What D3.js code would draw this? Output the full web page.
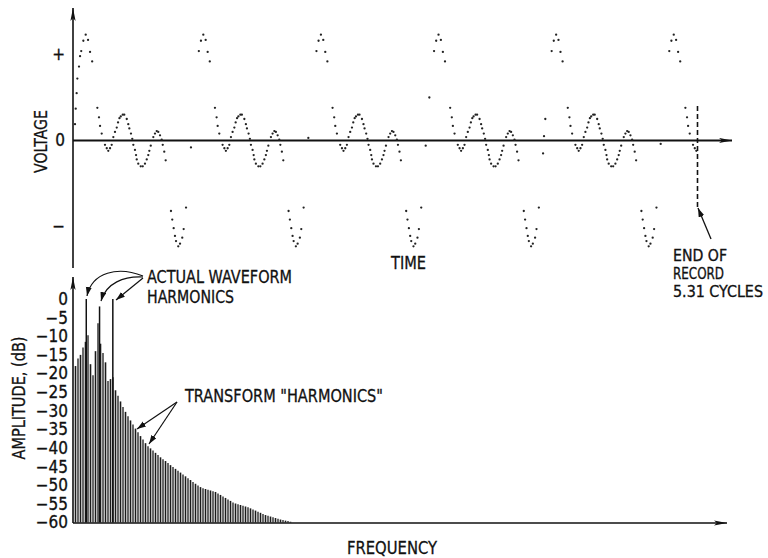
<!DOCTYPE html>
<html><head><meta charset="utf-8">
<script src="https://cdn.jsdelivr.net/npm/d3@7"></script>
<style>
body{margin:0;background:#fff}
svg{display:block}
text{font-family:"Liberation Sans Narrow","Arial Narrow","DejaVu Sans Condensed",sans-serif;fill:#111;stroke:#111;stroke-width:0.3}
</style>
</head><body>
<svg id="c" width="768" height="558"></svg>
<script>
// ---------------- DATA ----------------
// Time record length, in cycles of the waveform
const recordCycles = 5.31;
// One cycle of plotted samples: time within cycle (fraction) and voltage
const cycleT = [0.070,0.088,0.108,0.128,0.145,0.163,
  0.207,0.221,0.230,0.244,0.272,0.287,0.300,0.315,0.329,0.343,0.357,0.372,0.383,0.395,0.406,0.423,0.436,0.457,0.470,0.479,0.493,0.504,
  0.513,0.527,0.536,0.542,0.555,0.576,0.593,0.612,0.627,0.640,0.649,0.661,0.683,0.697,0.712,0.725,0.740,0.754,0.763,0.776,0.788,
  0.833,0.844,0.856,0.867,0.876,0.895,0.910,0.929,0.941,0.961];
const cycleV = [1.04,1.16,1.23,1.17,1.03,0.92,
  0.38,0.27,0.17,0.08,-0.05,-0.09,-0.12,-0.09,-0.05,0.04,0.10,0.15,0.21,0.26,0.28,0.30,0.30,0.25,0.19,0.14,0.08,0.02,
  -0.05,-0.11,-0.17,-0.22,-0.27,-0.30,-0.30,-0.27,-0.22,-0.17,-0.12,-0.06,0.04,0.08,0.11,0.10,0.06,0.01,-0.05,-0.13,-0.23,
  -0.82,-0.92,-1.02,-1.11,-1.17,-1.23,-1.20,-1.13,-1.03,-0.78];
// extra samples at the very start of the record
const startT = [0.017,0.023,0.031,0.037,0.051,0.060];
const startV = [0.19,0.37,0.55,0.72,0.86,0.98];
// isolated samples on the steep rise between cycles (absolute time, cycles)
const strayT = [1.003,2.001,2.999,3.030,3.997,4.005,4.016,4.997];
const strayV = [-0.08,0.03,-0.06,0.50,-0.15,0.05,0.25,-0.04];
const voltTickValues = [1,0,-1];
const voltTickLabels = ["+","0","\u2212"];

// Spectrum: transform "harmonics" (DFT bins 1..87), amplitude in dB
const binDb = [-18,-16,-15,-13,-11.5,-9.7,-17.5,-20.5,-14,-6.5,-12,-14.5,-17,-22,-21.5,-21,
  -24.5,-26,-27.5,-29,-30.3,-31.5,-32.6,-33.7,-34.8,-35.8,-36.8,-37.7,-38.7,-39.5,
  -40.1,-40.7,-41.3,-41.9,-42.5,-43,-43.5,-44,-44.6,-45.1,-45.6,-46.1,-46.6,-47.1,-47.6,-48.1,-48.6,-49.1,-49.6,-50.1,
  -50.5,-50.8,-51,-51.2,-51.4,-51.6,-51.8,-52.2,-52.6,-53,-53.4,-53.8,-54.2,-54.6,-54.9,-55.1,-55.3,-55.5,-55.7,-55.9,
  -56.2,-56.5,-56.8,-57.1,-57.4,-57.7,-58,-58.2,-58.4,-58.6,-58.8,-59,-59.2,-59.3,-59.5,-59.6,-59.8];
// actual waveform harmonics (in bin units) and their amplitude
const harmonicFreq = [5.31,10.62,15.93];
const harmonicDb = [0,-2,0];
const dbTicks = [0,-5,-10,-15,-20,-25,-30,-35,-40,-45,-50,-55,-60];

// ---------------- DRAW ----------------
const svg = d3.select("#c");
const defs = svg.append("defs");
defs.append("marker").attr("id","axArrow").attr("markerUnits","userSpaceOnUse")
  .attr("markerWidth",14).attr("markerHeight",8).attr("refX",13).attr("refY",3)
  .attr("orient","auto").append("path").attr("d","M0,0.4 L13,3 L0,5.6 L3,3 z").attr("fill","#111");
defs.append("marker").attr("id","anArrow").attr("markerUnits","userSpaceOnUse")
  .attr("markerWidth",10).attr("markerHeight",8).attr("refX",9).attr("refY",3)
  .attr("orient","auto").append("path").attr("d","M0,0 L9,3 L0,6 z").attr("fill","#111");

function label(x, yc, txt, fs, width, opts={}) {
  const t = svg.append("text").attr("font-size",fs).text(txt);
  t.attr("text-anchor",opts.anchor || "start");
  if (width) t.attr("textLength",width).attr("lengthAdjust","spacingAndGlyphs");
  if (opts.rotate) {
    t.attr("x",0).attr("y",0.365*fs).attr("text-anchor","middle")
     .attr("transform",`translate(${x},${yc}) rotate(-90)`);
  } else {
    t.attr("x",x).attr("y",yc + 0.365*fs);
  }
  return t;
}

// ----- top: time waveform -----
const xT = d3.scaleLinear().domain([0, recordCycles]).range([73, 697.5]);
const yV = d3.scaleLinear().domain([-1, 1]).range([226.5, 54.5]);

svg.append("line").attr("x1",73).attr("y1",268).attr("x2",73).attr("y2",8)
  .attr("stroke","#111").attr("stroke-width",1.6).attr("marker-end","url(#axArrow)");
svg.append("line").attr("x1",73).attr("y1",yV(0)).attr("x2",732).attr("y2",yV(0))
  .attr("stroke","#111").attr("stroke-width",1.8).attr("marker-end","url(#axArrow)");

const axV = d3.axisLeft(yV).tickValues(voltTickValues)
  .tickFormat((d,i)=>voltTickLabels[i]).tickSize(0).tickPadding(8);
const gV = svg.append("g").attr("transform","translate(73,0)").call(axV);
gV.select(".domain").remove();
gV.selectAll("text").attr("font-size",17).attr("font-family","DejaVu Sans,sans-serif").attr("fill","#111");

const dots = [];
startT.forEach((t,i)=>dots.push([t,startV[i]]));
for (let c=0; c<Math.ceil(recordCycles); c++) {
  cycleT.forEach((t,i)=>{ if (c+t <= recordCycles) dots.push([c+t, cycleV[i]]); });
}
strayT.forEach((t,i)=>dots.push([t,strayV[i]]));
svg.append("g").selectAll("circle").data(dots).join("circle")
  .attr("cx",d=>xT(d[0])).attr("cy",d=>yV(d[1])).attr("r",1.15).attr("fill","#222");

svg.append("line").attr("x1",xT(recordCycles)).attr("x2",xT(recordCycles))
  .attr("y1",106).attr("y2",210).attr("stroke","#111").attr("stroke-width",1.6)
  .attr("stroke-dasharray","5,3");
svg.append("line").attr("x1",711).attr("y1",239).attr("x2",xT(recordCycles)+0.5).attr("y2",208)
  .attr("stroke","#111").attr("stroke-width",1.3).attr("marker-end","url(#anArrow)");

label(40,141.5,"VOLTAGE",18,63,{rotate:true});
label(391,262,"TIME",18,35);
label(673,256,"END OF",15,54);
label(673,273.5,"RECORD",15,51);
label(673,292,"5.31 CYCLES",15,90);

// ----- bottom: spectrum -----
const xF = d3.scaleLinear().domain([0, 87]).range([73, 290.5]);
const yDb = d3.scaleLinear().domain([-60, 0]).range([522.5, 299]);

svg.append("g").selectAll("line").data(binDb).join("line")
  .attr("x1",(d,i)=>xF(i+1)).attr("x2",(d,i)=>xF(i+1))
  .attr("y1",yDb(-60)).attr("y2",d=>yDb(d))
  .attr("stroke",(d,i)=> i%2 ? "#444" : "#1a1a1a").attr("stroke-width",1.6);
svg.append("g").selectAll("line").data(harmonicFreq).join("line")
  .attr("x1",d=>xF(d)).attr("x2",d=>xF(d))
  .attr("y1",yDb(-60)).attr("y2",(d,i)=>yDb(harmonicDb[i]))
  .attr("stroke","#111").attr("stroke-width",1.5);

svg.append("line").attr("x1",73).attr("y1",523).attr("x2",73).attr("y2",277)
  .attr("stroke","#111").attr("stroke-width",1.6).attr("marker-end","url(#axArrow)");
svg.append("line").attr("x1",73).attr("y1",523).attr("x2",727).attr("y2",523)
  .attr("stroke","#111").attr("stroke-width",1.6).attr("marker-end","url(#axArrow)");

const axDb = d3.axisLeft(yDb).tickValues(dbTicks)
  .tickFormat(d=> d===0 ? "0" : "\u2212"+Math.abs(d)).tickSize(0).tickPadding(5);
const gDb = svg.append("g").attr("transform","translate(73,0)").call(axDb);
gDb.select(".domain").remove();
gDb.selectAll("text").attr("font-size",17).attr("fill","#111")
  .attr("font-family","'Liberation Sans Narrow','DejaVu Sans Condensed',sans-serif");

label(18.3,398,"AMPLITUDE, (dB)",18,123,{rotate:true});
label(347,547,"FREQUENCY",18,90);
label(147,276.7,"ACTUAL WAVEFORM",18,145);
label(147,296,"HARMONICS",18,87);
label(185,395,"TRANSFORM \"HARMONICS\"",18,198);

const ann = svg.append("g").attr("fill","none").attr("stroke","#111").attr("stroke-width",1.2);
ann.append("path").attr("d","M143,276 C118,266 92,272 87,296").attr("marker-end","url(#anArrow)");
ann.append("path").attr("d","M143,277 C124,276 106,283 101,301").attr("marker-end","url(#anArrow)");
ann.append("path").attr("d","M143,278 L116,300").attr("marker-end","url(#anArrow)");
ann.append("path").attr("d","M177,402 L137,429").attr("marker-end","url(#anArrow)");
ann.append("path").attr("d","M177,402 L149,444").attr("marker-end","url(#anArrow)");
</script>
</body></html>
